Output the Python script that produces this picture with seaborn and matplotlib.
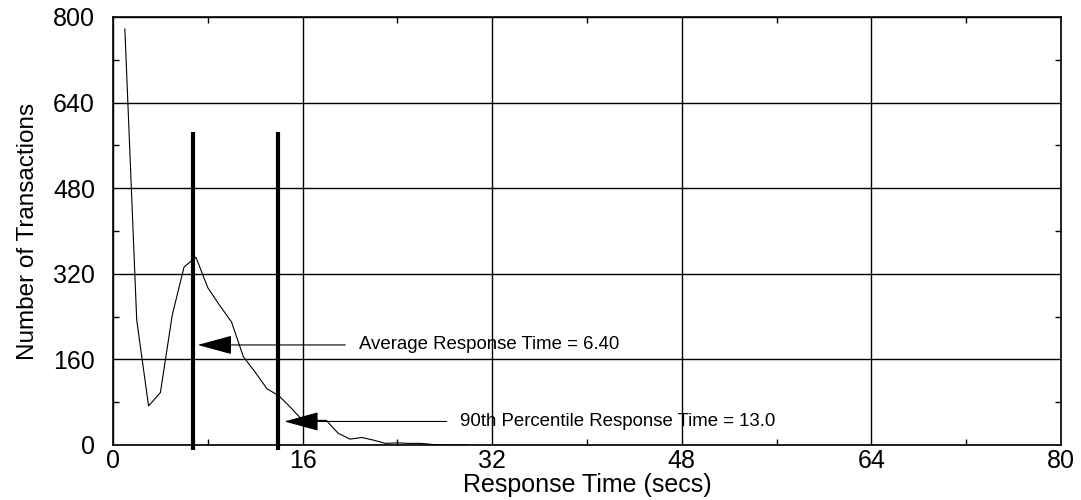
import matplotlib
matplotlib.use("Agg")
import matplotlib.pyplot as plt
import seaborn as sns
import pandas as pd

# ---- data ----
resp_time = [1, 2, 3, 4, 5, 6, 7, 8, 9, 10, 11, 12, 13, 14, 15, 16, 17, 18, 19, 20,
             21, 22, 23, 24, 25, 26, 27, 28, 29, 30]
transactions = [778, 234, 73, 98, 243, 333, 351, 294, 261, 230, 165, 136, 105, 92, 70,
                46, 46, 46, 22, 11, 14, 9, 3, 4, 3, 3, 1, 0, 0, 0]
marker_x = [6.78, 13.95]          # thick vertical markers
marker_y = [-9, 585]
avg_label = "Average Response Time = 6.40"
p90_label = "90th Percentile Response Time = 13.0"
avg_arrow = dict(tip=(7.15, 187), tail=(19.6, 187), text=(20.8, 187))
p90_arrow = dict(tip=(14.46, 44), tail=(28.15, 44), text=(29.3, 44))
x_ticks = [0, 16, 32, 48, 64, 80]
x_minor = [8, 24, 40, 56, 72]
y_ticks = [0, 160, 320, 480, 640, 800]
y_minor = [80, 240, 400, 560, 720]

sns.set_theme(style="white")
plt.rcParams["font.family"] = ["Liberation Sans", "DejaVu Sans"]

fig = plt.figure(figsize=(10.81, 5.0), dpi=100)
ax = fig.add_axes([113 / 1081, 1 - 445 / 500, (1061 - 113) / 1081, (445 - 17) / 500])

df = pd.DataFrame({"t": resp_time, "n": transactions})
sns.lineplot(data=df, x="t", y="n", ax=ax, color="black", linewidth=0.8, zorder=3)

ax.set_xlim(0, 80)
ax.set_ylim(0, 800)
ax.set_xticks(x_ticks)
ax.set_xticks(x_minor, minor=True)
ax.set_yticks(y_ticks)
ax.set_yticks(y_minor, minor=True)
ax.set_xticklabels([str(v) for v in x_ticks])
ax.set_yticklabels([str(v) for v in y_ticks])

ax.grid(True, which="major", color="black", linewidth=1.0)
for s in ax.spines.values():
    s.set_color("black")
    s.set_linewidth(1.2)
    s.set_visible(True)
ax.set_axisbelow(False)

ax.tick_params(axis="both", which="major", direction="in", length=0, labelsize=18,
               colors="black")
ax.tick_params(axis="x", which="major", pad=3)
ax.tick_params(axis="y", which="major", pad=13)
ax.tick_params(axis="both", which="minor", direction="in", length=4.5, width=1.0,
               color="black", top=True, right=True, bottom=True, left=True)

ax.set_xlabel("Response Time (secs)", fontsize=18, labelpad=0, color="black")
ax.set_ylabel("Number of Transactions", fontsize=17.5, labelpad=10, color="black")

# thick vertical markers
for mx in marker_x:
    ax.plot([mx, mx], marker_y, color="black", linewidth=3.0, clip_on=False,
            solid_capstyle="butt", zorder=4)

# arrows with labels
for arr, lab in ((avg_arrow, avg_label), (p90_arrow, p90_label)):
    ax.annotate("", xy=arr["tip"], xytext=arr["tail"],
                arrowprops=dict(arrowstyle="-|>,head_length=2.2,head_width=0.6",
                                mutation_scale=10, color="black", lw=0.8,
                                shrinkA=0, shrinkB=0), zorder=5)
    ax.text(arr["text"][0], arr["text"][1], lab, fontsize=13.4, va="center",
            ha="left", color="black", zorder=5)

fig.savefig("out.png", dpi=100)
